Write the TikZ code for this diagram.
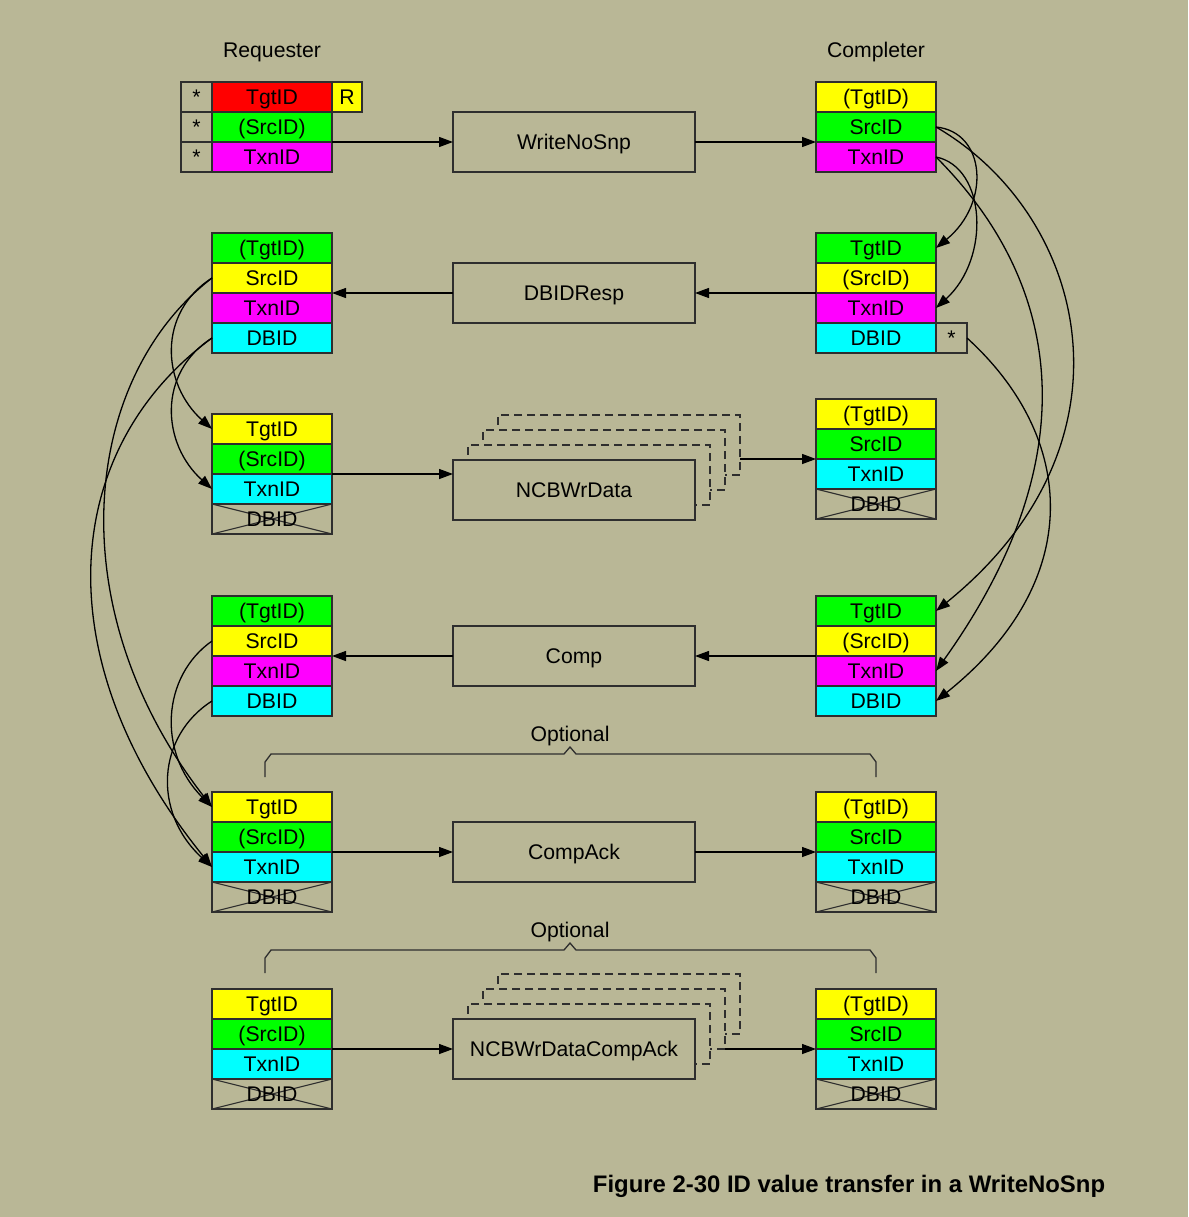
\documentclass[tikz,border=0pt]{standalone}
\usepackage{fontspec}
\setmainfont{Liberation Sans}
\usetikzlibrary{arrows.meta,positioning}
\definecolor{olivebg}{HTML}{B9B796}
\definecolor{boxline}{HTML}{2E2E2E}
\definecolor{idred}{HTML}{FF0000}
\definecolor{idyellow}{HTML}{FFFF00}
\definecolor{idgreen}{HTML}{00FF00}
\definecolor{idmagenta}{HTML}{FF00FF}
\definecolor{idcyan}{HTML}{00FFFF}
\newcommand{\idfont}{\fontsize{21.2}{25}\selectfont}
\newcommand{\captfont}{\fontsize{23.9}{28}\selectfont\bfseries}
\tikzset{
  idfield/.style={
    rectangle, draw=boxline, fill=#1, line width=1.3pt,
    minimum width=120pt, minimum height=30pt,
    text height=15.2pt, text depth=0pt,
    inner sep=0pt, outer sep=0pt, font=\idfont
  },
  idfield/.default=idyellow,
  deadfield/.style={idfield=olivebg,
    path picture={\draw[boxline, line width=1.1pt]
      (path picture bounding box.north west) -- (path picture bounding box.south east)
      (path picture bounding box.south west) -- (path picture bounding box.north east);}},
  starcell/.style={idfield=olivebg, minimum width=31pt},
  msgbox/.style={
    rectangle, draw=boxline, fill=olivebg, line width=1.3pt,
    minimum width=242pt, minimum height=60pt,
    text height=15.2pt, text depth=0pt,
    inner sep=0pt, outer sep=0pt, font=\idfont
  },
  ghostbox/.style={msgbox, dash pattern=on 8pt off 5pt},
  msgarrow/.style={-{Triangle[length=14pt,width=10pt]}, line width=1.3pt, color=black},
  idlink/.style={msgarrow},
  bracket/.style={draw=boxline, line width=1.3pt},
  headlabel/.style={font=\idfont, text height=15.2pt, text depth=0pt},
}
\begin{document}
\begin{tikzpicture}[x=1pt, y=-1pt, node distance=0pt]
  \fill[olivebg] (0,0) rectangle (1188,1217);
  \node[headlabel] (rqhead) at (272,50) {Requester};
  \node[headlabel] (cphead) at (876,50) {Completer};

  % WriteNoSnp
  \node[idfield=idred] (rq1tgt) at (272,97) {TgtID};
  \node[idfield=idgreen, below=of rq1tgt] (rq1src) {(SrcID)};
  \node[idfield=idmagenta, below=of rq1src] (rq1txn) {TxnID};
  \node[starcell, left=of rq1tgt] (rq1s1) {*};
  \node[starcell, left=of rq1src] (rq1s2) {*};
  \node[starcell, left=of rq1txn] (rq1s3) {*};
  \node[idfield=idyellow, minimum width=30pt, right=of rq1tgt] (rq1r) {R};
  \node[idfield=idyellow] (cp1tgt) at (876,97) {(TgtID)};
  \node[idfield=idgreen, below=of cp1tgt] (cp1src) {SrcID};
  \node[idfield=idmagenta, below=of cp1src] (cp1txn) {TxnID};
  \node[msgbox] (wmsg) at (574,142) {WriteNoSnp};
  \draw[msgarrow] (rq1txn.north east) -- (wmsg.west);
  \draw[msgarrow] (wmsg.east) -- (cp1txn.north west);

  % DBIDResp
  \node[idfield=idgreen] (rq2tgt) at (272,248) {(TgtID)};
  \node[idfield=idyellow, below=of rq2tgt] (rq2src) {SrcID};
  \node[idfield=idmagenta, below=of rq2src] (rq2txn) {TxnID};
  \node[idfield=idcyan, below=of rq2txn] (rq2dbid) {DBID};
  \node[idfield=idgreen] (cp2tgt) at (876,248) {TgtID};
  \node[idfield=idyellow, below=of cp2tgt] (cp2src) {(SrcID)};
  \node[idfield=idmagenta, below=of cp2src] (cp2txn) {TxnID};
  \node[idfield=idcyan, below=of cp2txn] (cp2dbid) {DBID};
  \node[starcell, right=of cp2dbid] (cp2star) {*};
  \node[msgbox] (dmsg) at (574,293) {DBIDResp};
  \draw[msgarrow] (cp2txn.north west) -- (dmsg.east);
  \draw[msgarrow] (dmsg.west) -- (rq2txn.north east);

  % NCBWrData
  \node[idfield=idyellow] (rq3tgt) at (272,429) {TgtID};
  \node[idfield=idgreen, below=of rq3tgt] (rq3src) {(SrcID)};
  \node[idfield=idcyan, below=of rq3src] (rq3txn) {TxnID};
  \node[deadfield, below=of rq3txn] (rq3dbid) {DBID};
  \node[idfield=idyellow] (cp3tgt) at (876,414) {(TgtID)};
  \node[idfield=idgreen, below=of cp3tgt] (cp3src) {SrcID};
  \node[idfield=idcyan, below=of cp3src] (cp3txn) {TxnID};
  \node[deadfield, below=of cp3txn] (cp3dbid) {DBID};
  \node[ghostbox] (ncbA3) at (619,445) {};
  \node[ghostbox] (ncbA2) at (604,460) {};
  \node[ghostbox] (ncbA1) at (589,475) {};
  \node[msgbox] (nmsg) at (574,490) {NCBWrData};
  \draw[msgarrow] (rq3txn.north east) -- (nmsg.west |- rq3txn.north);
  \draw[msgarrow] (ncbA3.east |- cp3txn.north) -- (cp3txn.north west);

  % Comp
  \node[idfield=idgreen] (rq4tgt) at (272,611) {(TgtID)};
  \node[idfield=idyellow, below=of rq4tgt] (rq4src) {SrcID};
  \node[idfield=idmagenta, below=of rq4src] (rq4txn) {TxnID};
  \node[idfield=idcyan, below=of rq4txn] (rq4dbid) {DBID};
  \node[idfield=idgreen] (cp4tgt) at (876,611) {TgtID};
  \node[idfield=idyellow, below=of cp4tgt] (cp4src) {(SrcID)};
  \node[idfield=idmagenta, below=of cp4src] (cp4txn) {TxnID};
  \node[idfield=idcyan, below=of cp4txn] (cp4dbid) {DBID};
  \node[msgbox] (cmsg) at (574,656) {Comp};
  \draw[msgarrow] (cp4txn.north west) -- (cmsg.east);
  \draw[msgarrow] (cmsg.west) -- (rq4txn.north east);

  % optional CompAck
  \draw[bracket] (265,777) -- (265,762) -- (271,754) -- (564,754) -- (570,747)
    -- (576,754) -- (870,754) -- (876,762) -- (876,777);
  \node[headlabel] (opt1) at (570,734) {Optional};
  \node[idfield=idyellow] (rq5tgt) at (272,807) {TgtID};
  \node[idfield=idgreen, below=of rq5tgt] (rq5src) {(SrcID)};
  \node[idfield=idcyan, below=of rq5src] (rq5txn) {TxnID};
  \node[deadfield, below=of rq5txn] (rq5dbid) {DBID};
  \node[idfield=idyellow] (cp5tgt) at (876,807) {(TgtID)};
  \node[idfield=idgreen, below=of cp5tgt] (cp5src) {SrcID};
  \node[idfield=idcyan, below=of cp5src] (cp5txn) {TxnID};
  \node[deadfield, below=of cp5txn] (cp5dbid) {DBID};
  \node[msgbox] (amsg) at (574,852) {CompAck};
  \draw[msgarrow] (rq5txn.north east) -- (amsg.west);
  \draw[msgarrow] (amsg.east) -- (cp5txn.north west);

  % optional NCBWrDataCompAck
  \draw[bracket] (265,973) -- (265,958) -- (271,950) -- (564,950) -- (570,943)
    -- (576,950) -- (870,950) -- (876,958) -- (876,973);
  \node[headlabel] (opt2) at (570,930) {Optional};
  \node[idfield=idyellow] (rq6tgt) at (272,1004) {TgtID};
  \node[idfield=idgreen, below=of rq6tgt] (rq6src) {(SrcID)};
  \node[idfield=idcyan, below=of rq6src] (rq6txn) {TxnID};
  \node[deadfield, below=of rq6txn] (rq6dbid) {DBID};
  \node[idfield=idyellow] (cp6tgt) at (876,1004) {(TgtID)};
  \node[idfield=idgreen, below=of cp6tgt] (cp6src) {SrcID};
  \node[idfield=idcyan, below=of cp6src] (cp6txn) {TxnID};
  \node[deadfield, below=of cp6txn] (cp6dbid) {DBID};
  \node[ghostbox] (ncbB3) at (619,1004) {};
  \node[ghostbox] (ncbB2) at (604,1019) {};
  \node[ghostbox] (ncbB1) at (589,1034) {};
  \node[msgbox] (ncmsg) at (574,1049) {NCBWrDataCompAck};
  \draw[msgarrow] (rq6txn.north east) -- (ncmsg.west);
  \draw[msgarrow] (ncbB2.south east) -- (cp6txn.north west);

  % completer side id copies
  \draw[idlink] (cp1src.east) .. controls +(50,5) and +(55,-45) .. (cp2tgt.east);
  \draw[idlink] (cp1txn.east) .. controls +(50,10) and +(55,-50) .. (cp2txn.east);
  \draw[idlink] (cp1src.east) .. controls +(150,87) and +(210,-170) .. (cp4tgt.east);
  \draw[idlink] (cp1txn.east) .. controls +(130,130) and +(150,-210) .. (cp4txn.east);
  \draw[idlink] (cp2star.east) .. controls +(110,100) and +(150,-120) .. (cp4dbid.east);

  % requester side id copies
  \draw[idlink] (rq2src.west) .. controls +(-55,35) and +(-50,-45) .. (rq3tgt.west);
  \draw[idlink] (rq2dbid.west) .. controls +(-55,35) and +(-50,-45) .. (rq3txn.west);
  \draw[idlink] (rq2src.west) .. controls +(-130,100) and +(-155,-200) .. (rq5tgt.west);
  \draw[idlink] (rq2dbid.west) .. controls +(-150,110) and +(-170,-210) .. (rq5txn.west);
  \draw[idlink] (rq4src.west) .. controls +(-50,35) and +(-55,-55) .. (rq5tgt.west);
  \draw[idlink] (rq4dbid.west) .. controls +(-55,35) and +(-60,-55) .. (rq5txn.west);

  \node[font=\captfont, text height=17.1pt, text depth=0pt] (caption) at (849,1184) {Figure 2-30 ID value transfer in a WriteNoSnp};
\end{tikzpicture}
\end{document}
